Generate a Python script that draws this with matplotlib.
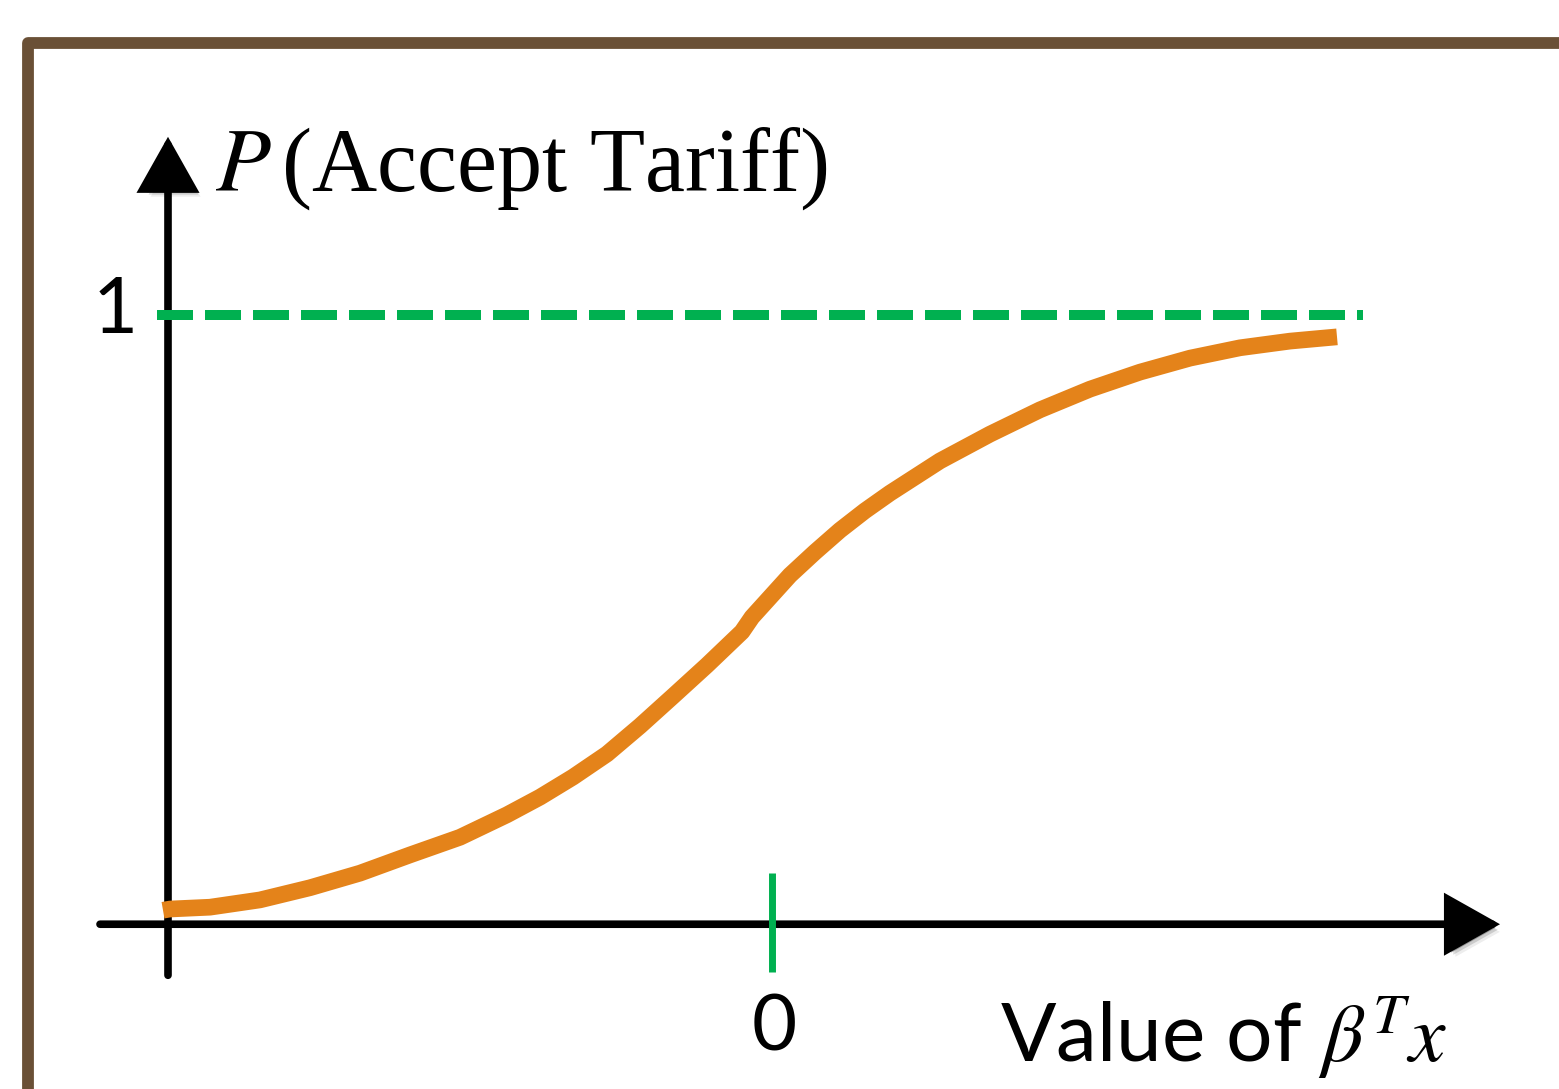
import matplotlib
matplotlib.use("Agg")
import matplotlib.pyplot as plt
import matplotlib.patheffects as pe
from matplotlib.patches import Rectangle

plt.rcParams['mathtext.fontset'] = 'stix'

# logistic-looking curve (x = value of beta^T x, y = probability)
curve_x = [-6.09, -6.02, -5.62, -5.12, -4.62, -4.12, -3.62, -3.12, -2.65, -2.32,
           -1.99, -1.65, -1.32, -0.99, -0.65, -0.30, -0.20, 0.18, 0.43, 0.68,
           0.93, 1.18, 1.68, 2.18, 2.68, 3.18, 3.68, 4.18, 4.68, 5.18, 5.65]
curve_y = [0.021, 0.023, 0.026, 0.038, 0.058, 0.082, 0.112, 0.141, 0.178, 0.207,
           0.240, 0.278, 0.324, 0.373, 0.424, 0.479, 0.503, 0.572, 0.610, 0.646,
           0.678, 0.707, 0.760, 0.804, 0.844, 0.878, 0.906, 0.929, 0.946, 0.957, 0.964]

# reference line at P = 1 and the tick at 0
ref_x = [-6.15, 5.91]
ref_y = [1, 1]
tick_x = [0, 0]
tick_y = [0.082, -0.081]

# axis arrows (start, tip)
yaxis_start, yaxis_tip = (-6.04, -0.086), (-6.04, 1.293)
xaxis_start, xaxis_tip = (-6.72, -0.002), (7.28, -0.002)

orange = '#E4831A'
green = '#00B050'
brown = '#6A5036'

fig = plt.figure(figsize=(15.59, 10.89), dpi=100)
ax = fig.add_axes([0, 0, 1, 1])
ax.set_xlim(-7.72, 7.87)
ax.set_ylim(-0.273, 1.518)
ax.axis('off')

# soft grey shadow under the axes, like the picture
shadow = [pe.SimplePatchShadow(offset=(5.5, -5.5), shadow_rgbFace='k', alpha=0.07),
          pe.SimplePatchShadow(offset=(4, -4), shadow_rgbFace='k', alpha=0.14),
          pe.SimplePatchShadow(offset=(2.5, -2.5), shadow_rgbFace='k', alpha=0.28),
          pe.Normal()]
for start, tip in [(yaxis_start, yaxis_tip), (xaxis_start, xaxis_tip)]:
    ax.annotate('', xy=tip, xytext=start,
                arrowprops=dict(arrowstyle='-|>,head_length=0.8,head_width=0.45',
                                mutation_scale=40, lw=5.5, color='black',
                                shrinkA=0, shrinkB=0, joinstyle='miter',
                                path_effects=shadow),
                zorder=2)

ax.plot(ref_x, ref_y, color=green, lw=7.2, dashes=(3.6, 1.2),
        solid_capstyle='butt', dash_capstyle='butt', zorder=3)
ax.plot(tick_x, tick_y, color=green, lw=5, solid_capstyle='butt', zorder=3)
ax.plot(curve_x, curve_y, color=orange, lw=12, solid_capstyle='butt',
        solid_joinstyle='round', zorder=4)

ax.text(-5.57, 1.204, r'$P\,$(Accept Tariff)', family='Liberation Serif',
        fontsize=65, va='baseline', ha='left')
ax.text(-6.57, 0.970, '1', family='Lato', fontsize=56, va='baseline', ha='center')
ax.text(0.02, -0.209, '0', family='Lato', fontsize=56, va='baseline', ha='center')
ax.text(2.28, -0.229, r'Value of $\beta^T x$', family='Lato', fontsize=59,
        va='baseline', ha='left')

# brown frame, cut off at right and bottom like the reference
frame = Rectangle((28 / 1559, -0.2), 1.2, 0.2 + (1089 - 43) / 1089,
                  transform=fig.transFigure, fill=False, ec=brown, lw=8.5,
                  joinstyle='round')
fig.patches.append(frame)

fig.savefig('out.png', dpi=100, facecolor='white')
